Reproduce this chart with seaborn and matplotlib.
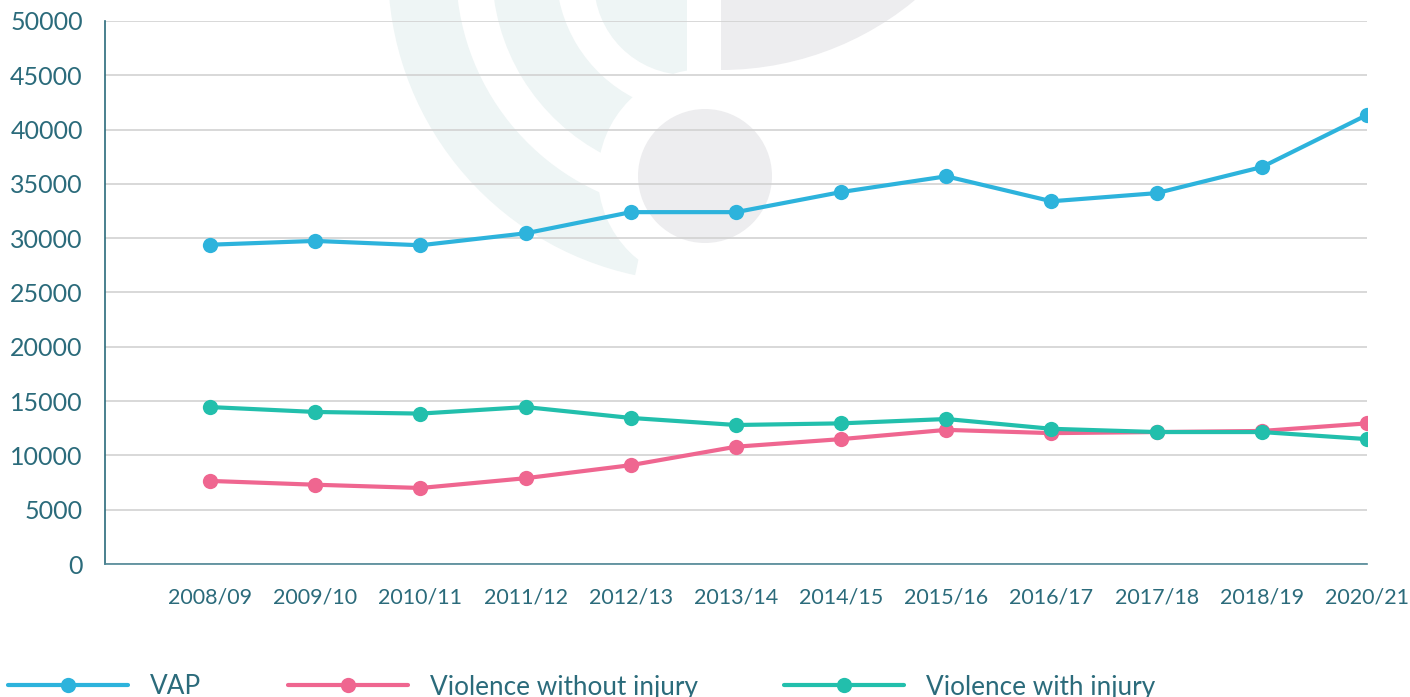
import pandas as pd
import matplotlib
matplotlib.use("Agg")
import matplotlib.pyplot as plt
from matplotlib.patches import Wedge, Circle
import seaborn as sns

years = ['2008/09', '2009/10', '2010/11', '2011/12', '2012/13', '2013/14',
         '2014/15', '2015/16', '2016/17', '2017/18', '2018/19', '2020/21']
vap = [29400, 29750, 29350, 30450, 32400, 32400, 34250, 35700, 33400, 34150, 36550, 41350]
without_injury = [7650, 7300, 7000, 7900, 9100, 10800, 11500, 12350, 12050, 12150, 12250, 12950]
with_injury = [14450, 14000, 13850, 14450, 13450, 12800, 12950, 13350, 12450, 12150, 12150, 11500]

series = ['VAP', 'Violence without injury', 'Violence with injury']
colours = ['#2db3dc', '#ef6690', '#22bfac']
txt = '#2b6b7b'

df = pd.DataFrame({'year': years * 3,
                   'count': vap + without_injury + with_injury,
                   'series': [s for s in series for _ in years]})

sns.set_theme(style='white')
plt.rcParams['font.family'] = ['Lato', 'DejaVu Sans']

fig = plt.figure(figsize=(14.1, 6.97), dpi=100)

# faint logo watermark, drawn in pixel coords behind the chart
bg = fig.add_axes([0, 0, 1, 1], zorder=0)
bg.set_xlim(0, 1410)
bg.set_ylim(697, 0)
bg.axis('off')
cx, cy = 700, -30
bg.add_patch(Wedge((cx, cy), 312, 102, 180, width=68, color='#eef5f5', lw=0))
bg.add_patch(Wedge((cx, cy), 208, 117, 180, width=64, color='#eef5f5', lw=0))
bg.add_patch(Wedge((687, -18), 93, 90, 180, color='#eef5f5', lw=0))
bg.add_patch(Wedge((721, -234), 304, 0, 90, color='#ededef', lw=0))
bg.add_patch(Circle((705, 176), 107, color='white', lw=0))
bg.add_patch(Circle((705, 176), 67, color='#ededef', lw=0))

ax = fig.add_axes([105 / 1410, 133 / 697, 1262 / 1410, 543 / 697], zorder=1)
ax.set_facecolor('none')

sns.lineplot(data=df, x='year', y='count', hue='series', palette=colours,
             marker='o', markersize=11, markeredgewidth=0, linewidth=3,
             ax=ax, sort=False)

ax.set_xlim(-1, 11)
ax.set_ylim(0, 50000)
ax.set_yticks(range(0, 50001, 5000))
ax.set_xticks(range(len(years)))
ax.set_xticklabels(years)
ax.set_xlabel('')
ax.set_ylabel('')

ax.yaxis.grid(True, color='#d2d2d2', lw=1.2)
ax.set_axisbelow(True)
for s in ['top', 'right']:
    ax.spines[s].set_visible(False)
ax.spines['left'].set_color(txt)
ax.spines['left'].set_linewidth(1.2)
ax.spines['bottom'].set_color('#4f8796')
ax.spines['bottom'].set_linewidth(1.2)

ax.tick_params(axis='y', length=0, pad=16, labelsize=18, labelcolor=txt)
ax.tick_params(axis='x', direction='in', length=9.5, width=1, color='#4f8796',
               pad=17, labelsize=15.5, labelcolor=txt)

handles, labels = ax.get_legend_handles_labels()
ax.get_legend().remove()
fig.legend(handles, labels, loc='center left', bbox_to_anchor=(8 / 1410, 10 / 697),
           ncol=3, frameon=False, fontsize=18.8, labelcolor=txt,
           handlelength=4.6, handletextpad=0.85, columnspacing=3.3,
           borderpad=0, borderaxespad=0)

fig.savefig('out.png', dpi=100)
